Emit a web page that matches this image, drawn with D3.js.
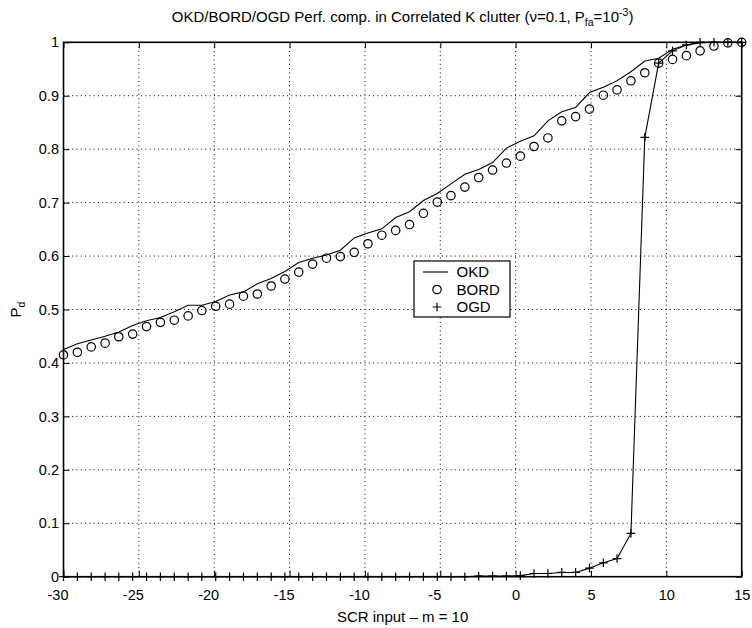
<!DOCTYPE html>
<html>
<head>
<meta charset="utf-8">
<script src="https://cdn.jsdelivr.net/npm/d3@7"></script>
<style>
  body { margin: 0; background: #fff; }
  text { font-family: 'Liberation Sans', Arial, sans-serif; fill: #000; }
  .tick line { stroke: #000; }
  .grid line { stroke: #000; stroke-width: 1; stroke-dasharray: 1,3.3; }
</style>
</head>
<body>
<svg width="752" height="628"></svg>
<script>
// SCR input (dB), 50 points
const scr = [-30, -29.08, -28.16, -27.24, -26.33, -25.41, -24.49, -23.57, -22.65, -21.73,
  -20.82, -19.90, -18.98, -18.06, -17.14, -16.22, -15.31, -14.39, -13.47, -12.55,
  -11.63, -10.71, -9.80, -8.88, -7.96, -7.04, -6.12, -5.20, -4.29, -3.37,
  -2.45, -1.53, -0.61, 0.31, 1.22, 2.14, 3.06, 3.98, 4.90, 5.82,
  6.73, 7.65, 8.57, 9.49, 10.41, 11.33, 12.24, 13.16, 14.08, 15];

const okd = [0.425, 0.436, 0.443, 0.450, 0.458, 0.470, 0.479, 0.485, 0.496, 0.508,
  0.508, 0.515, 0.527, 0.533, 0.548, 0.558, 0.571, 0.588, 0.596, 0.602,
  0.611, 0.634, 0.643, 0.651, 0.672, 0.683, 0.704, 0.717, 0.735, 0.753,
  0.762, 0.775, 0.802, 0.815, 0.825, 0.853, 0.870, 0.878, 0.906, 0.916,
  0.928, 0.945, 0.965, 0.970, 0.987, 0.995, 0.999, 1.0, 1.0, 1.0];

const bord = [0.415, 0.420, 0.430, 0.437, 0.449, 0.454, 0.468, 0.476, 0.480, 0.488,
  0.498, 0.506, 0.510, 0.525, 0.529, 0.544, 0.557, 0.570, 0.585, 0.596,
  0.599, 0.607, 0.623, 0.639, 0.648, 0.659, 0.680, 0.701, 0.713, 0.729,
  0.747, 0.761, 0.774, 0.787, 0.805, 0.821, 0.853, 0.861, 0.875, 0.901,
  0.911, 0.928, 0.943, 0.961, 0.968, 0.975, 0.984, 0.993, 0.999, 1.0];

const ogd = [0, 0, 0, 0, 0, 0, 0, 0, 0, 0,
  0, 0, 0, 0, 0, 0, 0, 0, 0, 0,
  0, 0, 0, 0, 0, 0, 0, 0, 0, 0,
  0.001, 0.001, 0.001, 0.002, 0.006, 0.006, 0.008, 0.008, 0.016, 0.026,
  0.034, 0.081, 0.822, 0.961, 0.984, 0.995, 1.0, 1.0, 1.0, 1.0];

const xTicks = [-30, -25, -20, -15, -10, -5, 0, 5, 10, 15];
const yTicks = [0, 0.1, 0.2, 0.3, 0.4, 0.5, 0.6, 0.7, 0.8, 0.9, 1];
const legendLabels = ['OKD', 'BORD', 'OGD'];

function whenLoaded(){
    const svg = d3.select('svg');
    const width = +svg.attr('width');
    const height = +svg.attr('height');

    const margin = {top:42.3, right:10.3, bottom:51.3, left:63.5};
    const innerWidth = width - margin.left - margin.right;
    const innerHeight = height - margin.top - margin.bottom;

    const xScale = d3.scaleLinear().domain([-30, 15]).range([0, innerWidth]);
    const yScale = d3.scaleLinear().domain([0, 1]).range([innerHeight, 0]);

    const g = svg.append('g')
        .attr('transform', `translate(${margin.left},${margin.top})`);

    // dotted grid
    const grid = g.append('g').attr('class', 'grid');
    grid.selectAll('.gx').data(xTicks.slice(1, -1)).enter().append('line')
        .attr('x1', d => xScale(d)).attr('x2', d => xScale(d))
        .attr('y1', 0).attr('y2', innerHeight);
    grid.selectAll('.gy').data(yTicks.slice(1, -1)).enter().append('line')
        .attr('y1', d => yScale(d)).attr('y2', d => yScale(d))
        .attr('x1', 0).attr('x2', innerWidth);

    const pts = scr.map((x, i) => ({x, okd: okd[i], bord: bord[i], ogd: ogd[i]}));

    // OKD line
    const okdLine = d3.line().x(d => xScale(d.x)).y(d => yScale(d.okd));
    g.append('path').attr('d', okdLine(pts))
        .attr('fill', 'none').attr('stroke', '#000').attr('stroke-width', 1.1);

    // OGD line + markers
    const ogdLine = d3.line().x(d => xScale(d.x)).y(d => yScale(d.ogd));
    g.append('path').attr('d', ogdLine(pts))
        .attr('fill', 'none').attr('stroke', '#000').attr('stroke-width', 1.1);

    const plus = (sel, s) => sel.attr('d', `M${-s},0H${s}M0,${-s}V${s}`)
        .attr('fill', 'none').attr('stroke', '#000').attr('stroke-width', 1.2);

    g.selectAll('.ogd').data(pts).enter().append('path')
        .attr('transform', d => `translate(${xScale(d.x)},${yScale(d.ogd)})`)
        .call(plus, 4.3);

    // BORD circles
    g.selectAll('.bord').data(pts).enter().append('circle')
        .attr('cx', d => xScale(d.x)).attr('cy', d => yScale(d.bord))
        .attr('r', 4.2)
        .attr('fill', 'none').attr('stroke', '#000').attr('stroke-width', 1.2);

    // axes with inward ticks
    const xAxis = d3.axisBottom(xScale).tickValues(xTicks).tickSizeInner(-6).tickSizeOuter(0).tickPadding(13)
        .tickFormat(d => String(d));
    const yAxis = d3.axisLeft(yScale).tickValues(yTicks).tickSizeInner(-6).tickSizeOuter(0).tickPadding(4.5)
        .tickFormat(d => String(d));

    const xAxisG = g.append('g').attr('transform', `translate(0,${innerHeight})`).call(xAxis);
    const yAxisG = g.append('g').call(yAxis);
    const xTopG = g.append('g').call(d3.axisTop(xScale).tickValues(xTicks).tickSizeInner(-6).tickSizeOuter(0).tickFormat(''));
    const yRightG = g.append('g').attr('transform', `translate(${innerWidth},0)`)
        .call(d3.axisRight(yScale).tickValues(yTicks).tickSizeInner(-6).tickSizeOuter(0).tickFormat(''));

    [xAxisG, yAxisG, xTopG, yRightG].forEach(a => {
        a.selectAll('.domain').remove();
        a.selectAll('text').style('font-size', '14.5px').attr('fill', '#000');
    });
    // negative labels sit a little left of their tick, as in the original
    xAxisG.selectAll('text').attr('dx', d => d < 0 ? -6 : 0);

    // frame
    g.append('rect').attr('width', innerWidth).attr('height', innerHeight)
        .attr('fill', 'none').attr('stroke', '#000').attr('stroke-width', 1.6);

    // title
    const title = svg.append('text')
        .attr('x', margin.left + innerWidth / 2).attr('y', 22)
        .attr('text-anchor', 'middle').style('font-size', '15px');
    title.append('tspan').text('OKD/BORD/OGD Perf. comp. in Correlated K clutter (\u03bd=0.1, P');
    title.append('tspan').attr('dy', 4).style('font-size', '10.5px').text('fa');
    title.append('tspan').attr('dy', -4).text('=10');
    title.append('tspan').attr('dy', -6).style('font-size', '10.5px').text('-3');
    title.append('tspan').attr('dy', 6).text(')');

    // axis labels
    svg.append('text')
        .attr('x', margin.left + innerWidth / 2).attr('y', 622.3)
        .attr('text-anchor', 'middle').style('font-size', '15px')
        .text('SCR input \u2013 m = 10');

    const yl = svg.append('text')
        .attr('transform', `translate(20.5,${margin.top + innerHeight / 2}) rotate(-90)`)
        .attr('text-anchor', 'middle').style('font-size', '15px');
    yl.append('tspan').text('P');
    yl.append('tspan').attr('dy', 4).style('font-size', '10.5px').text('d');

    // legend
    const lg = svg.append('g').attr('transform', 'translate(414,261)');
    lg.append('rect').attr('width', 96).attr('height', 56)
        .attr('fill', '#fff').attr('stroke', '#000').attr('stroke-width', 1.2);
    const rowY = [11, 28.5, 46];
    lg.append('line').attr('x1', 9).attr('x2', 34).attr('y1', rowY[0]).attr('y2', rowY[0])
        .attr('stroke', '#000').attr('stroke-width', 1.1);
    lg.append('circle').attr('cx', 23).attr('cy', rowY[1]).attr('r', 4.2)
        .attr('fill', 'none').attr('stroke', '#000').attr('stroke-width', 1.2);
    lg.append('path').attr('transform', `translate(23,${rowY[2]})`).call(plus, 4.3);
    lg.selectAll('.lt').data(legendLabels).enter().append('text')
        .attr('x', 42.5).attr('y', (d, i) => rowY[i]).attr('dy', '0.35em')
        .style('font-size', '15px').text(d => d);
}

window.onload = whenLoaded;
</script>
</body>
</html>
